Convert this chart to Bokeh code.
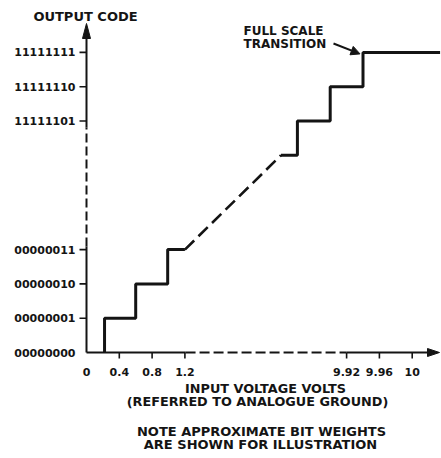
from bokeh.plotting import figure
from bokeh.models import Range1d, Arrow, NormalHead
from bokeh.core.properties import value
from bokeh.embed import file_html
from bokeh.resources import INLINE

# ---------------- data ----------------
x_tick_volts = [0, 0.4, 0.8, 1.2, 9.92, 9.96, 10]
x_tick_labels = ["0", "0.4", "0.8", "1.2", "9.92", "9.96", "10"]
y_tick_codes = [0, 1, 2, 3, 253, 254, 255]
y_tick_labels = ["00000000", "00000001", "00000010", "00000011",
                 "11111101", "11111110", "11111111"]

# transfer characteristic (input volts -> output code)
low_volts = [0.22, 0.22, 0.6, 0.6, 0.99, 0.99, 1.2]
low_codes = [0, 1, 1, 2, 2, 3, 3]
mid_volts = [1.2, 9.84]          # dashed (omitted) linear region
mid_codes = [3, 252]
high_volts = [9.84, 9.86, 9.86, 9.90, 9.90, 9.94, 9.94, 10.034]
high_codes = [252, 252, 253, 253, 254, 254, 255, 255]
full_scale_volts, full_scale_code = 9.94, 255

# -------------- broken-axis schematic scales --------------
def xpos(v):
    return v / 0.4 if v <= 2 else 9.93 + (v - 10) / 0.04

def ypos(c):
    return c if c <= 3 else c - 253 + 6.75

SX, SY = 32.8, 34.3          # px per schematic unit
W, H = 441, 458
OX, OY = 86, 352             # origin in canvas px

def PX(rx):                  # picture px -> schematic x
    return (rx - OX) / SX

def PY(ry):
    return (OY - ry) / SY

INK = "#141414"
FONT = value("DejaVu Sans")

p = figure(width=W, height=H, output_backend="svg", toolbar_location=None,
           x_range=Range1d(-OX / SX, (W - OX) / SX),
           y_range=Range1d(-(H - OY) / SY, OY / SY),
           min_border=0, outline_line_color=None, background_fill_color="white",
           border_fill_color="white")
p.axis.visible = False
p.grid.visible = False

# ---- axes (drawn) ----
# x axis
p.line([0, xpos(1.2) + 0.02], [0, 0], line_color=INK, line_width=2)
p.line([xpos(1.2) + 0.02, xpos(9.92)], [0, 0], line_color=INK, line_width=2, line_dash="10 4")
p.line([xpos(9.92), PX(430)], [0, 0], line_color=INK, line_width=2)
p.patch([PX(439), PX(427), PX(427)], [0, 4 / SY, -4 / SY], color=INK)
# y axis
p.line([0, 0], [0, PY(246)], line_color=INK, line_width=2)
p.line([0, 0], [PY(246), PY(127)], line_color=INK, line_width=2, line_dash="9 4")
p.line([0, 0], [PY(127), PY(37)], line_color=INK, line_width=2)
p.patch([0, 4 / SX, -4 / SX], [PY(23), PY(38), PY(38)], color=INK)

# ticks (no tick at origin)
xt = [xpos(v) for v in x_tick_volts[1:]]
p.segment(x0=xt, y0=[0] * len(xt), x1=xt, y1=[-6 / SY] * len(xt), line_color=INK, line_width=1.6)
yt = [ypos(c) for c in y_tick_codes[1:]]
p.segment(x0=[0] * len(yt), y0=yt, x1=[-7 / SX] * len(yt), y1=yt, line_color=INK, line_width=1.6)

# tick labels
p.text(x=[xpos(v) for v in x_tick_volts], y=[PY(371)] * len(x_tick_volts), text=x_tick_labels,
       text_font=FONT, text_font_style="bold", text_font_size="11px", text_color=INK,
       text_align="center", text_baseline="middle")
p.text(x=[PX(75)] * len(y_tick_codes), y=[ypos(c) for c in y_tick_codes], text=y_tick_labels,
       text_font=FONT, text_font_style="bold", text_font_size="11px", text_color=INK,
       text_align="right", text_baseline="middle")

# ---- transfer curve ----
p.line([xpos(v) for v in low_volts], [ypos(c) for c in low_codes], line_color=INK, line_width=3)
p.line([xpos(v) for v in mid_volts], [ypos(c) for c in mid_codes], line_color=INK, line_width=2.6,
       line_dash="13 6")
p.line([xpos(v) for v in high_volts], [ypos(c) for c in high_codes], line_color=INK, line_width=3)

# ---- texts ----
def txt(x, y, s, size="13px", align="center"):
    p.text(x=[x], y=[y], text=[s], text_font=FONT, text_font_style="bold", text_font_size=size,
           text_color=INK, text_align=align, text_baseline="middle")

txt(PX(85), PY(16), "OUTPUT CODE", "13px")
txt(PX(243), PY(30), "FULL SCALE", "12px", "left")
txt(PX(243), PY(43), "TRANSITION", "12px", "left")
txt(PX(265), PY(388), "INPUT VOLTAGE VOLTS", "12.8px")
txt(PX(257), PY(401), "(REFERRED TO ANALOGUE GROUND)", "12.8px")
txt(PX(261), PY(431), "NOTE APPROXIMATE BIT WEIGHTS", "13px")
txt(PX(260), PY(444), "ARE SHOWN FOR ILLUSTRATION", "13px")

p.add_layout(Arrow(end=NormalHead(size=9, fill_color=INK, line_color=INK, line_width=1),
                   x_start=PX(333), y_start=PY(43),
                   x_end=xpos(full_scale_volts) - 3 / SX, y_end=ypos(full_scale_code) - 1.5 / SY,
                   line_color=INK, line_width=2))

open("out.html", "w").write(file_html(p, INLINE))
